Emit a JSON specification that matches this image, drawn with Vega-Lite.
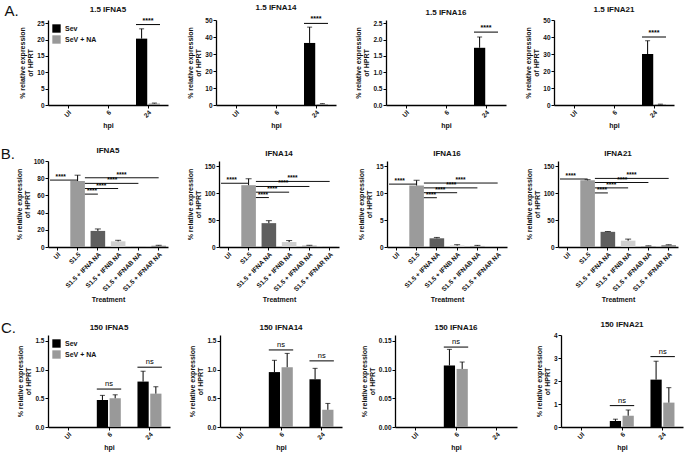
{
"$schema":"https://vega.github.io/schema/vega-lite/v6.json",
"padding":{"left":0,"top":4,"right":2,"bottom":1},
"config":{
 "font":"Liberation Sans",
 "view":{"stroke":null},
 "axis":{"grid":false,"domainColor":"#000","domainWidth":1.3,"tickColor":"#000","tickSize":3,"labelFontSize":6.5,"labelFontWeight":"bold","labelColor":"#111","titleFontSize":7,"titleFontWeight":"bold","titleColor":"#111","labelPadding":1,"titlePadding":3,"titleLineHeight":8,"labelOverlap":false,"labelBound":false,"labelFlush":false},
 "title":{"fontSize":8,"fontWeight":"bold","offset":3,"color":"#111"},
 "legend":{"labelFontSize":7,"labelFontWeight":"bold","symbolType":"square","symbolSize":70,"symbolStrokeWidth":0,"rowPadding":2,"offset":4,"padding":0,"labelColor":"#111"},
 "text":{"color":"#000","fill":"#000"},
 "concat":{"spacing":18}
},
"datasets":{
 "A":[
  {"k":"b","gene":"1.5 IFNA5","hpi":"UI","grp":"Sev","v":0},
  {"k":"b","gene":"1.5 IFNA5","hpi":"UI","grp":"SeV + NA","v":0},
  {"k":"b","gene":"1.5 IFNA5","hpi":"6","grp":"Sev","v":0},
  {"k":"b","gene":"1.5 IFNA5","hpi":"6","grp":"SeV + NA","v":0},
  {"k":"b","gene":"1.5 IFNA5","hpi":"24","grp":"Sev","v":20.3,"hi":23.3},
  {"k":"b","gene":"1.5 IFNA5","hpi":"24","grp":"SeV + NA","v":0.45,"hi":0.6},
  {"k":"s","gene":"1.5 IFNA5","hpi":"24","v":24.6,"lab":"****"},
  {"k":"b","gene":"1.5 IFNA14","hpi":"UI","grp":"Sev","v":0},
  {"k":"b","gene":"1.5 IFNA14","hpi":"UI","grp":"SeV + NA","v":0},
  {"k":"b","gene":"1.5 IFNA14","hpi":"6","grp":"Sev","v":0},
  {"k":"b","gene":"1.5 IFNA14","hpi":"6","grp":"SeV + NA","v":0},
  {"k":"b","gene":"1.5 IFNA14","hpi":"24","grp":"Sev","v":36.5,"hi":45.8},
  {"k":"b","gene":"1.5 IFNA14","hpi":"24","grp":"SeV + NA","v":0.6,"hi":0.8},
  {"k":"s","gene":"1.5 IFNA14","hpi":"24","v":48,"lab":"****"},
  {"k":"b","gene":"1.5 IFNA16","hpi":"UI","grp":"Sev","v":0},
  {"k":"b","gene":"1.5 IFNA16","hpi":"UI","grp":"SeV + NA","v":0},
  {"k":"b","gene":"1.5 IFNA16","hpi":"6","grp":"Sev","v":0},
  {"k":"b","gene":"1.5 IFNA16","hpi":"6","grp":"SeV + NA","v":0},
  {"k":"b","gene":"1.5 IFNA16","hpi":"24","grp":"Sev","v":1.75,"hi":2.08},
  {"k":"b","gene":"1.5 IFNA16","hpi":"24","grp":"SeV + NA","v":0},
  {"k":"s","gene":"1.5 IFNA16","hpi":"24","v":2.23,"lab":"****"},
  {"k":"b","gene":"1.5 IFNA21","hpi":"UI","grp":"Sev","v":0},
  {"k":"b","gene":"1.5 IFNA21","hpi":"UI","grp":"SeV + NA","v":0},
  {"k":"b","gene":"1.5 IFNA21","hpi":"6","grp":"Sev","v":0},
  {"k":"b","gene":"1.5 IFNA21","hpi":"6","grp":"SeV + NA","v":0},
  {"k":"b","gene":"1.5 IFNA21","hpi":"24","grp":"Sev","v":30,"hi":37.8},
  {"k":"b","gene":"1.5 IFNA21","hpi":"24","grp":"SeV + NA","v":0.4,"hi":0.5},
  {"k":"s","gene":"1.5 IFNA21","hpi":"24","v":40,"lab":"****"}
 ],
 "B":[
  {"k":"b","gene":"IFNA5","trt":"UI","v":0},
  {"k":"b","gene":"IFNA5","trt":"S1.5","v":76.7,"hi":83.5},
  {"k":"b","gene":"IFNA5","trt":"S1.5 + IFNA NA","v":18.7,"hi":21},
  {"k":"b","gene":"IFNA5","trt":"S1.5 + IFNB NA","v":6.6,"hi":7.8},
  {"k":"b","gene":"IFNA5","trt":"S1.5 + IFNAB NA","v":0.3},
  {"k":"b","gene":"IFNA5","trt":"S1.5 + IFNAR NA","v":1.5,"hi":2},
  {"k":"s","gene":"IFNA5","from":"UI","to":"S1.5","tx":"UI","v":77.8,"lab":"****"},
  {"k":"s","gene":"IFNA5","from":"S1.5","to":"S1.5 + IFNA NA","tx":"S1.5 + IFNA NA","v":61.5,"lab":"****"},
  {"k":"s","gene":"IFNA5","from":"S1.5","to":"S1.5 + IFNB NA","tx":"S1.5 + IFNA NA","v":68,"lab":"****"},
  {"k":"s","gene":"IFNA5","from":"S1.5","to":"S1.5 + IFNAB NA","tx":"S1.5 + IFNB NA","v":74,"lab":"****"},
  {"k":"s","gene":"IFNA5","from":"S1.5","to":"S1.5 + IFNAR NA","tx":"S1.5 + IFNB NA","v":80.5,"lab":"****"},
  {"k":"b","gene":"IFNA14","trt":"UI","v":0},
  {"k":"b","gene":"IFNA14","trt":"S1.5","v":115,"hi":127},
  {"k":"b","gene":"IFNA14","trt":"S1.5 + IFNA NA","v":44.4,"hi":49},
  {"k":"b","gene":"IFNA14","trt":"S1.5 + IFNB NA","v":9.2,"hi":12},
  {"k":"b","gene":"IFNA14","trt":"S1.5 + IFNAB NA","v":2.7,"hi":3.2},
  {"k":"b","gene":"IFNA14","trt":"S1.5 + IFNAR NA","v":0.3},
  {"k":"s","gene":"IFNA14","from":"UI","to":"S1.5","tx":"UI","v":118.6,"lab":"****"},
  {"k":"s","gene":"IFNA14","from":"S1.5","to":"S1.5 + IFNA NA","tx":"S1.5 + IFNA NA","v":92,"lab":"****"},
  {"k":"s","gene":"IFNA14","from":"S1.5","to":"S1.5 + IFNB NA","tx":"S1.5 + IFNA NA","v":102,"lab":"****"},
  {"k":"s","gene":"IFNA14","from":"S1.5","to":"S1.5 + IFNAB NA","tx":"S1.5 + IFNB NA","v":112.6,"lab":"****"},
  {"k":"s","gene":"IFNA14","from":"S1.5","to":"S1.5 + IFNAR NA","tx":"S1.5 + IFNB NA","v":122,"lab":"****"},
  {"k":"b","gene":"IFNA16","trt":"UI","v":0},
  {"k":"b","gene":"IFNA16","trt":"S1.5","v":11.44,"hi":12.4},
  {"k":"b","gene":"IFNA16","trt":"S1.5 + IFNA NA","v":1.62,"hi":1.78},
  {"k":"b","gene":"IFNA16","trt":"S1.5 + IFNB NA","v":0.27,"hi":0.43},
  {"k":"b","gene":"IFNA16","trt":"S1.5 + IFNAB NA","v":0.2,"hi":0.3},
  {"k":"b","gene":"IFNA16","trt":"S1.5 + IFNAR NA","v":0},
  {"k":"s","gene":"IFNA16","from":"UI","to":"S1.5","tx":"UI","v":11.7,"lab":"****"},
  {"k":"s","gene":"IFNA16","from":"S1.5","to":"S1.5 + IFNA NA","tx":"S1.5 + IFNA NA","v":9.17,"lab":"****"},
  {"k":"s","gene":"IFNA16","from":"S1.5","to":"S1.5 + IFNB NA","tx":"S1.5 + IFNA NA","v":10.1,"lab":"****"},
  {"k":"s","gene":"IFNA16","from":"S1.5","to":"S1.5 + IFNAB NA","tx":"S1.5 + IFNB NA","v":11,"lab":"****"},
  {"k":"s","gene":"IFNA16","from":"S1.5","to":"S1.5 + IFNAR NA","tx":"S1.5 + IFNB NA","v":11.9,"lab":"****"},
  {"k":"b","gene":"IFNA21","trt":"UI","v":0},
  {"k":"b","gene":"IFNA21","trt":"S1.5","v":124,"hi":125.3},
  {"k":"b","gene":"IFNA21","trt":"S1.5 + IFNA NA","v":28.2,"hi":28.8},
  {"k":"b","gene":"IFNA21","trt":"S1.5 + IFNB NA","v":11.8,"hi":14.7},
  {"k":"b","gene":"IFNA21","trt":"S1.5 + IFNAB NA","v":1.8,"hi":2.2},
  {"k":"b","gene":"IFNA21","trt":"S1.5 + IFNAR NA","v":3.5,"hi":4.2},
  {"k":"s","gene":"IFNA21","from":"UI","to":"S1.5","tx":"UI","v":126.5,"lab":"****"},
  {"k":"s","gene":"IFNA21","from":"S1.5","to":"S1.5 + IFNA NA","tx":"S1.5 + IFNA NA","v":100.6,"lab":"****"},
  {"k":"s","gene":"IFNA21","from":"S1.5","to":"S1.5 + IFNB NA","tx":"S1.5 + IFNA NA","v":110,"lab":"****"},
  {"k":"s","gene":"IFNA21","from":"S1.5","to":"S1.5 + IFNAB NA","tx":"S1.5 + IFNB NA","v":120,"lab":"****"},
  {"k":"s","gene":"IFNA21","from":"S1.5","to":"S1.5 + IFNAR NA","tx":"S1.5 + IFNB NA","v":127.6,"lab":"****"}
 ],
 "C":[
  {"k":"b","gene":"150 IFNA5","hpi":"UI","grp":"Sev","v":0},
  {"k":"b","gene":"150 IFNA5","hpi":"UI","grp":"SeV + NA","v":0},
  {"k":"b","gene":"150 IFNA5","hpi":"6","grp":"Sev","v":0.47,"hi":0.55},
  {"k":"b","gene":"150 IFNA5","hpi":"6","grp":"SeV + NA","v":0.5,"hi":0.56},
  {"k":"b","gene":"150 IFNA5","hpi":"24","grp":"Sev","v":0.79,"hi":0.97},
  {"k":"b","gene":"150 IFNA5","hpi":"24","grp":"SeV + NA","v":0.58,"hi":0.7},
  {"k":"s","gene":"150 IFNA5","hpi":"6","v":0.66,"lab":"ns"},
  {"k":"s","gene":"150 IFNA5","hpi":"24","v":1.04,"lab":"ns"},
  {"k":"b","gene":"150 IFNA14","hpi":"UI","grp":"Sev","v":0},
  {"k":"b","gene":"150 IFNA14","hpi":"UI","grp":"SeV + NA","v":0},
  {"k":"b","gene":"150 IFNA14","hpi":"6","grp":"Sev","v":0.955,"hi":1.16},
  {"k":"b","gene":"150 IFNA14","hpi":"6","grp":"SeV + NA","v":1.04,"hi":1.28},
  {"k":"b","gene":"150 IFNA14","hpi":"24","grp":"Sev","v":0.83,"hi":1.02},
  {"k":"b","gene":"150 IFNA14","hpi":"24","grp":"SeV + NA","v":0.3,"hi":0.41},
  {"k":"s","gene":"150 IFNA14","hpi":"6","v":1.34,"lab":"ns"},
  {"k":"s","gene":"150 IFNA14","hpi":"24","v":1.15,"lab":"ns"},
  {"k":"b","gene":"150 IFNA16","hpi":"UI","grp":"Sev","v":0},
  {"k":"b","gene":"150 IFNA16","hpi":"UI","grp":"SeV + NA","v":0},
  {"k":"b","gene":"150 IFNA16","hpi":"6","grp":"Sev","v":0.107,"hi":0.135},
  {"k":"b","gene":"150 IFNA16","hpi":"6","grp":"SeV + NA","v":0.101,"hi":0.113},
  {"k":"b","gene":"150 IFNA16","hpi":"24","grp":"Sev","v":0},
  {"k":"b","gene":"150 IFNA16","hpi":"24","grp":"SeV + NA","v":0},
  {"k":"s","gene":"150 IFNA16","hpi":"6","v":0.139,"lab":"ns"},
  {"k":"b","gene":"150 IFNA21","hpi":"UI","grp":"Sev","v":0},
  {"k":"b","gene":"150 IFNA21","hpi":"UI","grp":"SeV + NA","v":0},
  {"k":"b","gene":"150 IFNA21","hpi":"6","grp":"Sev","v":0.26,"hi":0.34},
  {"k":"b","gene":"150 IFNA21","hpi":"6","grp":"SeV + NA","v":0.49,"hi":0.74},
  {"k":"b","gene":"150 IFNA21","hpi":"24","grp":"Sev","v":2.06,"hi":2.86},
  {"k":"b","gene":"150 IFNA21","hpi":"24","grp":"SeV + NA","v":1.06,"hi":1.71},
  {"k":"s","gene":"150 IFNA21","hpi":"6","v":0.93,"lab":"ns"},
  {"k":"s","gene":"150 IFNA21","hpi":"24","v":3.06,"lab":"ns"}
 ]
},
"spacing":18,
"vconcat":[
{
 "data":{"name":"A"},
 "title":{"text":"A.","orient":"left","angle":0,"anchor":"end","fontSize":15,"fontWeight":"normal","offset":-14},
 "resolve":{"scale":{"color":"independent"}},
 "hconcat":[
  {"title":"1.5 IFNA5","width":120,"height":85,
   "transform":[{"filter":{"field":"gene","equal":"1.5 IFNA5"}}],
   "encoding":{"x":{"field":"hpi","type":"nominal","scale":{"domain":["UI","6","24"],"paddingInner":0.4,"paddingOuter":0.2},"axis":{"title":"hpi","labelAngle":-45}}},
   "layer":[
    {"transform":[{"filter":"datum.k=='b'"}],"mark":"bar","encoding":{
      "xOffset":{"field":"grp","type":"nominal","scale":{"domain":["Sev","SeV + NA"],"paddingInner":0.12}},
      "y":{"field":"v","type":"quantitative","scale":{"domain":[0,25]},"axis":{"values":[0,5,10,15,20,25],"tickCount":20,"format":"d","title":["% relative expression","of HPRT"]}},
      "color":{"field":"grp","type":"nominal","scale":{"domain":["Sev","SeV + NA"],"range":["#000000","#999999"]},"legend":{"orient":"top-left","title":null}}}},
    {"transform":[{"filter":"datum.k=='b' && isValid(datum.hi)"}],"mark":{"type":"rule","color":"#000"},"encoding":{
      "xOffset":{"field":"grp","type":"nominal"},"y":{"field":"v","type":"quantitative"},"y2":{"field":"hi"}}},
    {"transform":[{"filter":"datum.k=='b' && isValid(datum.hi)"}],"mark":{"type":"tick","color":"#000","size":5,"thickness":1},"encoding":{
      "xOffset":{"field":"grp","type":"nominal"},"y":{"field":"hi","type":"quantitative"}}},
    {"transform":[{"filter":"datum.k=='s'"}],"mark":{"type":"rule","color":"#000"},"encoding":{
      "x":{"field":"hpi","type":"nominal","bandPosition":0},"x2":{"field":"hpi","bandPosition":1},"y":{"field":"v","type":"quantitative"}}},
    {"transform":[{"filter":"datum.k=='s'"}],"mark":{"type":"text","dy":-4,"fontSize":7,"fontWeight":"bold","color":"#000","fill":"#000"},"encoding":{
      "y":{"field":"v","type":"quantitative"},"text":{"field":"lab"}}}
   ]},
  {"title":"1.5 IFNA14","width":120,"height":85,
   "transform":[{"filter":{"field":"gene","equal":"1.5 IFNA14"}}],
   "encoding":{"x":{"field":"hpi","type":"nominal","scale":{"domain":["UI","6","24"],"paddingInner":0.4,"paddingOuter":0.2},"axis":{"title":"hpi","labelAngle":-45}}},
   "layer":[
    {"transform":[{"filter":"datum.k=='b'"}],"mark":"bar","encoding":{
      "xOffset":{"field":"grp","type":"nominal","scale":{"domain":["Sev","SeV + NA"],"paddingInner":0.12}},
      "y":{"field":"v","type":"quantitative","scale":{"domain":[0,50]},"axis":{"values":[0,10,20,30,40,50],"tickCount":20,"format":"d","title":["% relative expression","of HPRT"]}},
      "color":{"field":"grp","type":"nominal","scale":{"domain":["Sev","SeV + NA"],"range":["#000000","#999999"]},"legend":null}}},
    {"transform":[{"filter":"datum.k=='b' && isValid(datum.hi)"}],"mark":{"type":"rule","color":"#000"},"encoding":{
      "xOffset":{"field":"grp","type":"nominal"},"y":{"field":"v","type":"quantitative"},"y2":{"field":"hi"}}},
    {"transform":[{"filter":"datum.k=='b' && isValid(datum.hi)"}],"mark":{"type":"tick","color":"#000","size":5,"thickness":1},"encoding":{
      "xOffset":{"field":"grp","type":"nominal"},"y":{"field":"hi","type":"quantitative"}}},
    {"transform":[{"filter":"datum.k=='s'"}],"mark":{"type":"rule","color":"#000"},"encoding":{
      "x":{"field":"hpi","type":"nominal","bandPosition":0},"x2":{"field":"hpi","bandPosition":1},"y":{"field":"v","type":"quantitative"}}},
    {"transform":[{"filter":"datum.k=='s'"}],"mark":{"type":"text","dy":-4,"fontSize":7,"fontWeight":"bold","color":"#000","fill":"#000"},"encoding":{
      "y":{"field":"v","type":"quantitative"},"text":{"field":"lab"}}}
   ]},
  {"title":"1.5 IFNA16","width":120,"height":85,
   "transform":[{"filter":{"field":"gene","equal":"1.5 IFNA16"}}],
   "encoding":{"x":{"field":"hpi","type":"nominal","scale":{"domain":["UI","6","24"],"paddingInner":0.4,"paddingOuter":0.2},"axis":{"title":"hpi","labelAngle":-45}}},
   "layer":[
    {"transform":[{"filter":"datum.k=='b'"}],"mark":"bar","encoding":{
      "xOffset":{"field":"grp","type":"nominal","scale":{"domain":["Sev","SeV + NA"],"paddingInner":0.12}},
      "y":{"field":"v","type":"quantitative","scale":{"domain":[0,2.5]},"axis":{"values":[0,0.5,1,1.5,2,2.5],"tickCount":20,"format":".1f","title":["% relative expression","of HPRT"]}},
      "color":{"field":"grp","type":"nominal","scale":{"domain":["Sev","SeV + NA"],"range":["#000000","#999999"]},"legend":null}}},
    {"transform":[{"filter":"datum.k=='b' && isValid(datum.hi)"}],"mark":{"type":"rule","color":"#000"},"encoding":{
      "xOffset":{"field":"grp","type":"nominal"},"y":{"field":"v","type":"quantitative"},"y2":{"field":"hi"}}},
    {"transform":[{"filter":"datum.k=='b' && isValid(datum.hi)"}],"mark":{"type":"tick","color":"#000","size":5,"thickness":1},"encoding":{
      "xOffset":{"field":"grp","type":"nominal"},"y":{"field":"hi","type":"quantitative"}}},
    {"transform":[{"filter":"datum.k=='s'"}],"mark":{"type":"rule","color":"#000"},"encoding":{
      "x":{"field":"hpi","type":"nominal","bandPosition":0},"x2":{"field":"hpi","bandPosition":1},"y":{"field":"v","type":"quantitative"}}},
    {"transform":[{"filter":"datum.k=='s'"}],"mark":{"type":"text","dy":-4,"fontSize":7,"fontWeight":"bold","color":"#000","fill":"#000"},"encoding":{
      "y":{"field":"v","type":"quantitative"},"text":{"field":"lab"}}}
   ]},
  {"title":"1.5 IFNA21","width":120,"height":85,
   "transform":[{"filter":{"field":"gene","equal":"1.5 IFNA21"}}],
   "encoding":{"x":{"field":"hpi","type":"nominal","scale":{"domain":["UI","6","24"],"paddingInner":0.4,"paddingOuter":0.2},"axis":{"title":"hpi","labelAngle":-45}}},
   "layer":[
    {"transform":[{"filter":"datum.k=='b'"}],"mark":"bar","encoding":{
      "xOffset":{"field":"grp","type":"nominal","scale":{"domain":["Sev","SeV + NA"],"paddingInner":0.12}},
      "y":{"field":"v","type":"quantitative","scale":{"domain":[0,50]},"axis":{"values":[0,10,20,30,40,50],"tickCount":20,"format":"d","title":["% relative expression","of HPRT"]}},
      "color":{"field":"grp","type":"nominal","scale":{"domain":["Sev","SeV + NA"],"range":["#000000","#999999"]},"legend":null}}},
    {"transform":[{"filter":"datum.k=='b' && isValid(datum.hi)"}],"mark":{"type":"rule","color":"#000"},"encoding":{
      "xOffset":{"field":"grp","type":"nominal"},"y":{"field":"v","type":"quantitative"},"y2":{"field":"hi"}}},
    {"transform":[{"filter":"datum.k=='b' && isValid(datum.hi)"}],"mark":{"type":"tick","color":"#000","size":5,"thickness":1},"encoding":{
      "xOffset":{"field":"grp","type":"nominal"},"y":{"field":"hi","type":"quantitative"}}},
    {"transform":[{"filter":"datum.k=='s'"}],"mark":{"type":"rule","color":"#000"},"encoding":{
      "x":{"field":"hpi","type":"nominal","bandPosition":0},"x2":{"field":"hpi","bandPosition":1},"y":{"field":"v","type":"quantitative"}}},
    {"transform":[{"filter":"datum.k=='s'"}],"mark":{"type":"text","dy":-4,"fontSize":7,"fontWeight":"bold","color":"#000","fill":"#000"},"encoding":{
      "y":{"field":"v","type":"quantitative"},"text":{"field":"lab"}}}
   ]}
 ]
},
{
 "data":{"name":"B"},
 "title":{"text":"B.","orient":"left","angle":0,"anchor":"end","fontSize":15,"fontWeight":"normal","offset":-14},
 "hconcat":[
  {"title":"IFNA5","width":120,"height":86,
   "transform":[{"filter":{"field":"gene","equal":"IFNA5"}}],
   "encoding":{"x":{"field":"trt","type":"nominal","scale":{"domain":["UI","S1.5","S1.5 + IFNA NA","S1.5 + IFNB NA","S1.5 + IFNAB NA","S1.5 + IFNAR NA"],"paddingInner":0.28,"paddingOuter":0.1},"axis":{"title":"Treatment","labelAngle":-45}}},
   "layer":[
    {"transform":[{"filter":"datum.k=='b'"}],"mark":"bar","encoding":{
      "y":{"field":"v","type":"quantitative","scale":{"domain":[0,100]},"axis":{"values":[0,20,40,60,80,100],"tickCount":20,"format":"d","title":["% relative expression","of HPRT"]}},
      "color":{"field":"trt","type":"nominal","scale":{"domain":["UI","S1.5","S1.5 + IFNA NA","S1.5 + IFNB NA","S1.5 + IFNAB NA","S1.5 + IFNAR NA"],"range":["#ffffff","#9b9b9b","#5e5e5e","#cfcfcf","#a9a9a9","#8c8c8c"]},"legend":null}}},
    {"transform":[{"filter":"datum.k=='b' && isValid(datum.hi)"}],"mark":{"type":"rule","color":"#000"},"encoding":{
      "y":{"field":"v","type":"quantitative"},"y2":{"field":"hi"}}},
    {"transform":[{"filter":"datum.k=='b' && isValid(datum.hi)"}],"mark":{"type":"tick","color":"#000","size":6,"thickness":1},"encoding":{
      "y":{"field":"hi","type":"quantitative"}}},
    {"transform":[{"filter":"datum.k=='s' && datum.from=='UI'"}],"mark":{"type":"rule","color":"#111"},"encoding":{
      "x":{"field":"from","type":"nominal","bandPosition":0},"x2":{"field":"to","bandPosition":0.5},"y":{"field":"v","type":"quantitative"}}},
    {"transform":[{"filter":"datum.k=='s' && datum.from=='S1.5'"}],"mark":{"type":"rule","color":"#111"},"encoding":{
      "x":{"field":"from","type":"nominal","bandPosition":1},"x2":{"field":"to","bandPosition":0.5},"y":{"field":"v","type":"quantitative"}}},
    {"transform":[{"filter":"datum.k=='s' && (datum.to=='S1.5 + IFNA NA' || datum.to=='S1.5 + IFNAB NA')"}],"mark":{"type":"text","dy":-3,"fontSize":6.5,"fontWeight":"bold","color":"#000","fill":"#000"},"encoding":{
      "x":{"field":"tx","type":"nominal","bandPosition":0.1},"y":{"field":"v","type":"quantitative"},"text":{"field":"lab"}}},
    {"transform":[{"filter":"datum.k=='s' && (datum.to=='S1.5' || datum.to=='S1.5 + IFNB NA' || datum.to=='S1.5 + IFNAR NA')"}],"mark":{"type":"text","dy":-3,"fontSize":6.5,"fontWeight":"bold","color":"#000","fill":"#000"},"encoding":{
      "x":{"field":"tx","type":"nominal","bandPosition":0.73},"y":{"field":"v","type":"quantitative"},"text":{"field":"lab"}}}
   ]},
  {"title":"IFNA14","width":120,"height":86,
   "transform":[{"filter":{"field":"gene","equal":"IFNA14"}}],
   "encoding":{"x":{"field":"trt","type":"nominal","scale":{"domain":["UI","S1.5","S1.5 + IFNA NA","S1.5 + IFNB NA","S1.5 + IFNAB NA","S1.5 + IFNAR NA"],"paddingInner":0.28,"paddingOuter":0.1},"axis":{"title":"Treatment","labelAngle":-45}}},
   "layer":[
    {"transform":[{"filter":"datum.k=='b'"}],"mark":"bar","encoding":{
      "y":{"field":"v","type":"quantitative","scale":{"domain":[0,150]},"axis":{"values":[0,50,100,150],"tickCount":20,"format":"d","title":["% relative expression","of HPRT"]}},
      "color":{"field":"trt","type":"nominal","scale":{"domain":["UI","S1.5","S1.5 + IFNA NA","S1.5 + IFNB NA","S1.5 + IFNAB NA","S1.5 + IFNAR NA"],"range":["#ffffff","#9b9b9b","#5e5e5e","#cfcfcf","#a9a9a9","#8c8c8c"]},"legend":null}}},
    {"transform":[{"filter":"datum.k=='b' && isValid(datum.hi)"}],"mark":{"type":"rule","color":"#000"},"encoding":{
      "y":{"field":"v","type":"quantitative"},"y2":{"field":"hi"}}},
    {"transform":[{"filter":"datum.k=='b' && isValid(datum.hi)"}],"mark":{"type":"tick","color":"#000","size":6,"thickness":1},"encoding":{
      "y":{"field":"hi","type":"quantitative"}}},
    {"transform":[{"filter":"datum.k=='s' && datum.from=='UI'"}],"mark":{"type":"rule","color":"#111"},"encoding":{
      "x":{"field":"from","type":"nominal","bandPosition":0},"x2":{"field":"to","bandPosition":0.5},"y":{"field":"v","type":"quantitative"}}},
    {"transform":[{"filter":"datum.k=='s' && datum.from=='S1.5'"}],"mark":{"type":"rule","color":"#111"},"encoding":{
      "x":{"field":"from","type":"nominal","bandPosition":1},"x2":{"field":"to","bandPosition":0.5},"y":{"field":"v","type":"quantitative"}}},
    {"transform":[{"filter":"datum.k=='s' && (datum.to=='S1.5 + IFNA NA' || datum.to=='S1.5 + IFNAB NA')"}],"mark":{"type":"text","dy":-3,"fontSize":6.5,"fontWeight":"bold","color":"#000","fill":"#000"},"encoding":{
      "x":{"field":"tx","type":"nominal","bandPosition":0.1},"y":{"field":"v","type":"quantitative"},"text":{"field":"lab"}}},
    {"transform":[{"filter":"datum.k=='s' && (datum.to=='S1.5' || datum.to=='S1.5 + IFNB NA' || datum.to=='S1.5 + IFNAR NA')"}],"mark":{"type":"text","dy":-3,"fontSize":6.5,"fontWeight":"bold","color":"#000","fill":"#000"},"encoding":{
      "x":{"field":"tx","type":"nominal","bandPosition":0.73},"y":{"field":"v","type":"quantitative"},"text":{"field":"lab"}}}
   ]},
  {"title":"IFNA16","width":120,"height":86,
   "transform":[{"filter":{"field":"gene","equal":"IFNA16"}}],
   "encoding":{"x":{"field":"trt","type":"nominal","scale":{"domain":["UI","S1.5","S1.5 + IFNA NA","S1.5 + IFNB NA","S1.5 + IFNAB NA","S1.5 + IFNAR NA"],"paddingInner":0.28,"paddingOuter":0.1},"axis":{"title":"Treatment","labelAngle":-45}}},
   "layer":[
    {"transform":[{"filter":"datum.k=='b'"}],"mark":"bar","encoding":{
      "y":{"field":"v","type":"quantitative","scale":{"domain":[0,15]},"axis":{"values":[0,5,10,15],"tickCount":20,"format":"d","title":["% relative expression","of HPRT"]}},
      "color":{"field":"trt","type":"nominal","scale":{"domain":["UI","S1.5","S1.5 + IFNA NA","S1.5 + IFNB NA","S1.5 + IFNAB NA","S1.5 + IFNAR NA"],"range":["#ffffff","#9b9b9b","#5e5e5e","#cfcfcf","#a9a9a9","#8c8c8c"]},"legend":null}}},
    {"transform":[{"filter":"datum.k=='b' && isValid(datum.hi)"}],"mark":{"type":"rule","color":"#000"},"encoding":{
      "y":{"field":"v","type":"quantitative"},"y2":{"field":"hi"}}},
    {"transform":[{"filter":"datum.k=='b' && isValid(datum.hi)"}],"mark":{"type":"tick","color":"#000","size":6,"thickness":1},"encoding":{
      "y":{"field":"hi","type":"quantitative"}}},
    {"transform":[{"filter":"datum.k=='s' && datum.from=='UI'"}],"mark":{"type":"rule","color":"#111"},"encoding":{
      "x":{"field":"from","type":"nominal","bandPosition":0},"x2":{"field":"to","bandPosition":0.5},"y":{"field":"v","type":"quantitative"}}},
    {"transform":[{"filter":"datum.k=='s' && datum.from=='S1.5'"}],"mark":{"type":"rule","color":"#111"},"encoding":{
      "x":{"field":"from","type":"nominal","bandPosition":1},"x2":{"field":"to","bandPosition":0.5},"y":{"field":"v","type":"quantitative"}}},
    {"transform":[{"filter":"datum.k=='s' && (datum.to=='S1.5 + IFNA NA' || datum.to=='S1.5 + IFNAB NA')"}],"mark":{"type":"text","dy":-3,"fontSize":6.5,"fontWeight":"bold","color":"#000","fill":"#000"},"encoding":{
      "x":{"field":"tx","type":"nominal","bandPosition":0.1},"y":{"field":"v","type":"quantitative"},"text":{"field":"lab"}}},
    {"transform":[{"filter":"datum.k=='s' && (datum.to=='S1.5' || datum.to=='S1.5 + IFNB NA' || datum.to=='S1.5 + IFNAR NA')"}],"mark":{"type":"text","dy":-3,"fontSize":6.5,"fontWeight":"bold","color":"#000","fill":"#000"},"encoding":{
      "x":{"field":"tx","type":"nominal","bandPosition":0.73},"y":{"field":"v","type":"quantitative"},"text":{"field":"lab"}}}
   ]},
  {"title":"IFNA21","width":120,"height":86,
   "transform":[{"filter":{"field":"gene","equal":"IFNA21"}}],
   "encoding":{"x":{"field":"trt","type":"nominal","scale":{"domain":["UI","S1.5","S1.5 + IFNA NA","S1.5 + IFNB NA","S1.5 + IFNAB NA","S1.5 + IFNAR NA"],"paddingInner":0.28,"paddingOuter":0.1},"axis":{"title":"Treatment","labelAngle":-45}}},
   "layer":[
    {"transform":[{"filter":"datum.k=='b'"}],"mark":"bar","encoding":{
      "y":{"field":"v","type":"quantitative","scale":{"domain":[0,150]},"axis":{"values":[0,50,100,150],"tickCount":20,"format":"d","title":["% relative expression","of HPRT"]}},
      "color":{"field":"trt","type":"nominal","scale":{"domain":["UI","S1.5","S1.5 + IFNA NA","S1.5 + IFNB NA","S1.5 + IFNAB NA","S1.5 + IFNAR NA"],"range":["#ffffff","#9b9b9b","#5e5e5e","#cfcfcf","#a9a9a9","#8c8c8c"]},"legend":null}}},
    {"transform":[{"filter":"datum.k=='b' && isValid(datum.hi)"}],"mark":{"type":"rule","color":"#000"},"encoding":{
      "y":{"field":"v","type":"quantitative"},"y2":{"field":"hi"}}},
    {"transform":[{"filter":"datum.k=='b' && isValid(datum.hi)"}],"mark":{"type":"tick","color":"#000","size":6,"thickness":1},"encoding":{
      "y":{"field":"hi","type":"quantitative"}}},
    {"transform":[{"filter":"datum.k=='s' && datum.from=='UI'"}],"mark":{"type":"rule","color":"#111"},"encoding":{
      "x":{"field":"from","type":"nominal","bandPosition":0},"x2":{"field":"to","bandPosition":0.5},"y":{"field":"v","type":"quantitative"}}},
    {"transform":[{"filter":"datum.k=='s' && datum.from=='S1.5'"}],"mark":{"type":"rule","color":"#111"},"encoding":{
      "x":{"field":"from","type":"nominal","bandPosition":1},"x2":{"field":"to","bandPosition":0.5},"y":{"field":"v","type":"quantitative"}}},
    {"transform":[{"filter":"datum.k=='s' && (datum.to=='S1.5 + IFNA NA' || datum.to=='S1.5 + IFNAB NA')"}],"mark":{"type":"text","dy":-3,"fontSize":6.5,"fontWeight":"bold","color":"#000","fill":"#000"},"encoding":{
      "x":{"field":"tx","type":"nominal","bandPosition":0.1},"y":{"field":"v","type":"quantitative"},"text":{"field":"lab"}}},
    {"transform":[{"filter":"datum.k=='s' && (datum.to=='S1.5' || datum.to=='S1.5 + IFNB NA' || datum.to=='S1.5 + IFNAR NA')"}],"mark":{"type":"text","dy":-3,"fontSize":6.5,"fontWeight":"bold","color":"#000","fill":"#000"},"encoding":{
      "x":{"field":"tx","type":"nominal","bandPosition":0.73},"y":{"field":"v","type":"quantitative"},"text":{"field":"lab"}}}
   ]}
 ]
},
{
 "data":{"name":"C"},
 "title":{"text":"C.","orient":"left","angle":0,"anchor":"end","fontSize":15,"fontWeight":"normal","offset":-14},
 "resolve":{"scale":{"color":"independent"}},
 "hconcat":[
  {"title":"150 IFNA5","width":122,"height":92,
   "transform":[{"filter":{"field":"gene","equal":"150 IFNA5"}}],
   "encoding":{"x":{"field":"hpi","type":"nominal","scale":{"domain":["UI","6","24"],"paddingInner":0.4,"paddingOuter":0.2},"axis":{"title":"hpi","labelAngle":-45}}},
   "layer":[
    {"transform":[{"filter":"datum.k=='b'"}],"mark":"bar","encoding":{
      "xOffset":{"field":"grp","type":"nominal","scale":{"domain":["Sev","SeV + NA"],"paddingInner":0.12}},
      "y":{"field":"v","type":"quantitative","scale":{"domain":[0,1.5]},"axis":{"values":[0,0.5,1,1.5],"tickCount":20,"format":".1f","title":["% relative expression","of HPRT"]}},
      "color":{"field":"grp","type":"nominal","scale":{"domain":["Sev","SeV + NA"],"range":["#000000","#999999"]},"legend":{"orient":"top-left","title":null}}}},
    {"transform":[{"filter":"datum.k=='b' && isValid(datum.hi)"}],"mark":{"type":"rule","color":"#000"},"encoding":{
      "xOffset":{"field":"grp","type":"nominal"},"y":{"field":"v","type":"quantitative"},"y2":{"field":"hi"}}},
    {"transform":[{"filter":"datum.k=='b' && isValid(datum.hi)"}],"mark":{"type":"tick","color":"#000","size":5,"thickness":1},"encoding":{
      "xOffset":{"field":"grp","type":"nominal"},"y":{"field":"hi","type":"quantitative"}}},
    {"transform":[{"filter":"datum.k=='s'"}],"mark":{"type":"rule","color":"#000"},"encoding":{
      "x":{"field":"hpi","type":"nominal","bandPosition":0},"x2":{"field":"hpi","bandPosition":1},"y":{"field":"v","type":"quantitative"}}},
    {"transform":[{"filter":"datum.k=='s'"}],"mark":{"type":"text","dy":-5,"fontSize":7.5,"color":"#000","fill":"#000"},"encoding":{
      "y":{"field":"v","type":"quantitative"},"text":{"field":"lab"}}}
   ]},
  {"title":"150 IFNA14","width":122,"height":92,
   "transform":[{"filter":{"field":"gene","equal":"150 IFNA14"}}],
   "encoding":{"x":{"field":"hpi","type":"nominal","scale":{"domain":["UI","6","24"],"paddingInner":0.4,"paddingOuter":0.2},"axis":{"title":"hpi","labelAngle":-45}}},
   "layer":[
    {"transform":[{"filter":"datum.k=='b'"}],"mark":"bar","encoding":{
      "xOffset":{"field":"grp","type":"nominal","scale":{"domain":["Sev","SeV + NA"],"paddingInner":0.12}},
      "y":{"field":"v","type":"quantitative","scale":{"domain":[0,1.5]},"axis":{"values":[0,0.5,1,1.5],"tickCount":20,"format":".1f","title":["% relative expression","of HPRT"]}},
      "color":{"field":"grp","type":"nominal","scale":{"domain":["Sev","SeV + NA"],"range":["#000000","#999999"]},"legend":null}}},
    {"transform":[{"filter":"datum.k=='b' && isValid(datum.hi)"}],"mark":{"type":"rule","color":"#000"},"encoding":{
      "xOffset":{"field":"grp","type":"nominal"},"y":{"field":"v","type":"quantitative"},"y2":{"field":"hi"}}},
    {"transform":[{"filter":"datum.k=='b' && isValid(datum.hi)"}],"mark":{"type":"tick","color":"#000","size":5,"thickness":1},"encoding":{
      "xOffset":{"field":"grp","type":"nominal"},"y":{"field":"hi","type":"quantitative"}}},
    {"transform":[{"filter":"datum.k=='s'"}],"mark":{"type":"rule","color":"#000"},"encoding":{
      "x":{"field":"hpi","type":"nominal","bandPosition":0},"x2":{"field":"hpi","bandPosition":1},"y":{"field":"v","type":"quantitative"}}},
    {"transform":[{"filter":"datum.k=='s'"}],"mark":{"type":"text","dy":-5,"fontSize":7.5,"color":"#000","fill":"#000"},"encoding":{
      "y":{"field":"v","type":"quantitative"},"text":{"field":"lab"}}}
   ]},
  {"title":"150 IFNA16","width":122,"height":92,
   "transform":[{"filter":{"field":"gene","equal":"150 IFNA16"}}],
   "encoding":{"x":{"field":"hpi","type":"nominal","scale":{"domain":["UI","6","24"],"paddingInner":0.4,"paddingOuter":0.2},"axis":{"title":"hpi","labelAngle":-45}}},
   "layer":[
    {"transform":[{"filter":"datum.k=='b'"}],"mark":"bar","encoding":{
      "xOffset":{"field":"grp","type":"nominal","scale":{"domain":["Sev","SeV + NA"],"paddingInner":0.12}},
      "y":{"field":"v","type":"quantitative","scale":{"domain":[0,0.15]},"axis":{"values":[0,0.05,0.1,0.15],"tickCount":20,"format":".2f","title":["% relative expression","of HPRT"]}},
      "color":{"field":"grp","type":"nominal","scale":{"domain":["Sev","SeV + NA"],"range":["#000000","#999999"]},"legend":null}}},
    {"transform":[{"filter":"datum.k=='b' && isValid(datum.hi)"}],"mark":{"type":"rule","color":"#000"},"encoding":{
      "xOffset":{"field":"grp","type":"nominal"},"y":{"field":"v","type":"quantitative"},"y2":{"field":"hi"}}},
    {"transform":[{"filter":"datum.k=='b' && isValid(datum.hi)"}],"mark":{"type":"tick","color":"#000","size":5,"thickness":1},"encoding":{
      "xOffset":{"field":"grp","type":"nominal"},"y":{"field":"hi","type":"quantitative"}}},
    {"transform":[{"filter":"datum.k=='s'"}],"mark":{"type":"rule","color":"#000"},"encoding":{
      "x":{"field":"hpi","type":"nominal","bandPosition":0},"x2":{"field":"hpi","bandPosition":1},"y":{"field":"v","type":"quantitative"}}},
    {"transform":[{"filter":"datum.k=='s'"}],"mark":{"type":"text","dy":-5,"fontSize":7.5,"color":"#000","fill":"#000"},"encoding":{
      "y":{"field":"v","type":"quantitative"},"text":{"field":"lab"}}}
   ]},
  {"title":"150 IFNA21","width":122,"height":92,
   "transform":[{"filter":{"field":"gene","equal":"150 IFNA21"}}],
   "encoding":{"x":{"field":"hpi","type":"nominal","scale":{"domain":["UI","6","24"],"paddingInner":0.4,"paddingOuter":0.2},"axis":{"title":"hpi","labelAngle":-45}}},
   "layer":[
    {"transform":[{"filter":"datum.k=='b'"}],"mark":"bar","encoding":{
      "xOffset":{"field":"grp","type":"nominal","scale":{"domain":["Sev","SeV + NA"],"paddingInner":0.12}},
      "y":{"field":"v","type":"quantitative","scale":{"domain":[0,4]},"axis":{"values":[0,1,2,3,4],"tickCount":20,"format":"d","title":["% relative expression","of HPRT"]}},
      "color":{"field":"grp","type":"nominal","scale":{"domain":["Sev","SeV + NA"],"range":["#000000","#999999"]},"legend":null}}},
    {"transform":[{"filter":"datum.k=='b' && isValid(datum.hi)"}],"mark":{"type":"rule","color":"#000"},"encoding":{
      "xOffset":{"field":"grp","type":"nominal"},"y":{"field":"v","type":"quantitative"},"y2":{"field":"hi"}}},
    {"transform":[{"filter":"datum.k=='b' && isValid(datum.hi)"}],"mark":{"type":"tick","color":"#000","size":5,"thickness":1},"encoding":{
      "xOffset":{"field":"grp","type":"nominal"},"y":{"field":"hi","type":"quantitative"}}},
    {"transform":[{"filter":"datum.k=='s'"}],"mark":{"type":"rule","color":"#000"},"encoding":{
      "x":{"field":"hpi","type":"nominal","bandPosition":0},"x2":{"field":"hpi","bandPosition":1},"y":{"field":"v","type":"quantitative"}}},
    {"transform":[{"filter":"datum.k=='s'"}],"mark":{"type":"text","dy":-5,"fontSize":7.5,"color":"#000","fill":"#000"},"encoding":{
      "y":{"field":"v","type":"quantitative"},"text":{"field":"lab"}}}
   ]}
 ]
}
]
}
